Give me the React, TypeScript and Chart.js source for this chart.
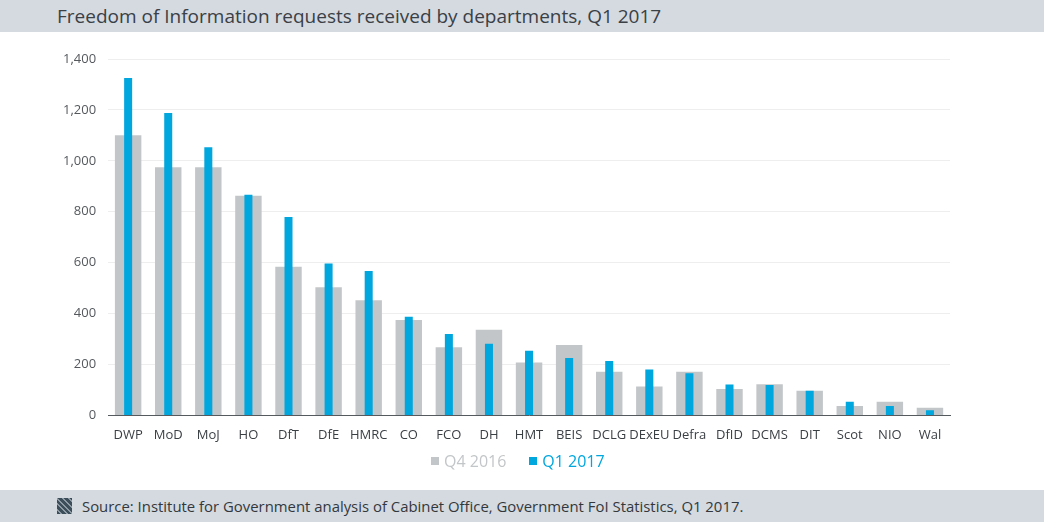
import { useEffect, useRef } from 'react';
import { Chart, registerables } from 'chart.js';

Chart.register(...registerables);

const categories = ['DWP', 'MoD', 'MoJ', 'HO', 'DfT', 'DfE', 'HMRC', 'CO', 'FCO', 'DH', 'HMT', 'BEIS', 'DCLG', 'DExEU', 'Defra', 'DfID', 'DCMS', 'DIT', 'Scot', 'NIO', 'Wal'];
const q4_2016 = [1100, 975, 975, 863, 584, 503, 452, 375, 268, 336, 208, 277, 171, 114, 171, 104, 122, 97, 37, 54, 30];
const q1_2017 = [1325, 1188, 1053, 867, 779, 597, 567, 388, 320, 281, 254, 225, 214, 180, 166, 121, 119, 97, 54, 37, 20];
const seriesNames = ['Q4 2016', 'Q1 2017'];
const yMax = 1400;
const yStep = 200;

const FONT = '"Open Sans", "Noto Sans", sans-serif';
const GREY = '#c3c6c8';
const BLUE = '#00a6de';
const BAND = '#d4dae0';
const seriesColors = [GREY, BLUE];

export default function App() {
  const ref = useRef<HTMLCanvasElement>(null);

  useEffect(() => {
    const chart = new Chart(ref.current!, {
      type: 'bar',
      data: {
        labels: categories,
        datasets: [
          {
            label: seriesNames[0],
            data: q4_2016,
            backgroundColor: GREY,
            borderWidth: 0,
            barPercentage: 0.66,
            categoryPercentage: 1,
            grouped: false,
            order: 2,
          },
          {
            label: seriesNames[1],
            data: q1_2017,
            backgroundColor: BLUE,
            borderWidth: 0,
            barPercentage: 0.2,
            categoryPercentage: 1,
            grouped: false,
            order: 1,
          },
        ],
      },
      options: {
        responsive: false,
        maintainAspectRatio: false,
        animation: false,
        layout: { padding: { left: 51, right: 94, top: 27, bottom: 35 } },
        plugins: {
          tooltip: { enabled: false },
          legend: { display: false },
        },
        scales: {
          x: {
            grid: { display: false, drawTicks: false },
            border: { display: true, color: '#555a5e', width: 1 },
            ticks: {
              color: '#3a3f44',
              font: { family: FONT, size: 13 },
              padding: 12,
              maxRotation: 0,
              autoSkip: false,
            },
          },
          y: {
            min: 0,
            max: yMax,
            grid: { color: '#eeeeee', drawTicks: false },
            border: { display: false },
            ticks: {
              stepSize: yStep,
              padding: 12,
              color: '#55595d',
              font: { family: FONT, size: 13 },
              callback: (v: any) => Number(v).toLocaleString('en-US'),
            },
          },
        },
      },
    });
    return () => chart.destroy();
  }, []);

  return (
    <div
      style={{
        position: 'absolute',
        left: 0,
        top: 0,
        width: 1044,
        height: 522,
        background: '#ffffff',
        fontFamily: FONT,
        overflow: 'hidden',
      }}
    >
      <div
        style={{
          height: 32,
          background: BAND,
          display: 'flex',
          alignItems: 'center',
          paddingLeft: 57,
          fontSize: 19,
          color: '#3a4046',
          boxSizing: 'border-box',
        }}
      >
        Freedom of Information requests received by departments, Q1 2017
      </div>
      <canvas ref={ref} width={1044} height={458} style={{ display: 'block', width: 1044, height: 458 }} />
      <div
        style={{
          position: 'absolute',
          left: 431,
          top: 450,
          height: 22,
          display: 'flex',
          alignItems: 'center',
          fontSize: 16,
          whiteSpace: 'nowrap',
        }}
      >
        {seriesNames.map((name, i) => (
          <div key={name} style={{ display: 'flex', alignItems: 'center', marginRight: i === 0 ? 23 : 0 }}>
            <div style={{ width: 8, height: 8, background: seriesColors[i], marginRight: 5 }} />
            <span style={{ color: seriesColors[i] }}>{name}</span>
          </div>
        ))}
      </div>
      <div
        style={{
          height: 32,
          background: BAND,
          display: 'flex',
          alignItems: 'center',
          paddingLeft: 57,
          fontSize: 14.9,
          color: '#33383c',
          boxSizing: 'border-box',
        }}
      >
        <div
          style={{
            width: 15,
            height: 16,
            marginRight: 10,
            background:
              'repeating-linear-gradient(45deg, #3d4e5b 0px, #3d4e5b 2.5px, #8e9aa4 2.5px, #8e9aa4 4px)',
          }}
        />
        Source: Institute for Government analysis of Cabinet Office, Government FoI Statistics, Q1 2017.
      </div>
    </div>
  );
}
